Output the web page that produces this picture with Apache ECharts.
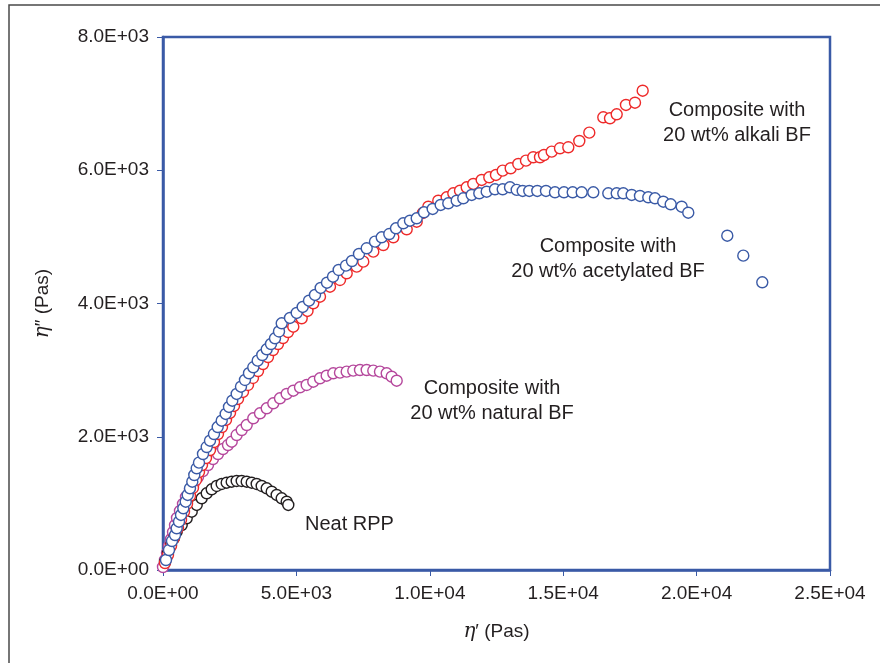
<!DOCTYPE html>
<html>
<head>
<meta charset="utf-8">
<script src="https://cdn.jsdelivr.net/npm/echarts@6/dist/echarts.min.js"></script>
<style>
html,body{margin:0;padding:0;background:#fff;}
#chart{width:880px;height:663px;}
</style>
</head>
<body>
<div id="chart"></div>
<script>
// eta' (Pas), eta'' (Pas) pairs
const neatRPP = [
  [75,120],[187,255],[300,375],[412,480],[513,575],[701,675],[888,776],[1076,875],
  [1263,976],[1450,1076],[1638,1151],[1825,1211],[2013,1261],[2200,1291],[2387,1310],
  [2575,1325],[2762,1336],[2950,1336],[3137,1325],[3324,1310],[3512,1291],[3699,1261],
  [3887,1226],[4074,1175],[4261,1126],[4449,1076],[4636,1025],[4696,976]
];
const naturalBF = [
  [0,45],[75,150],[150,255],[225,360],[300,465],[375,570],[450,675],[525,781],[637,886],
  [750,991],[862,1096],[1012,1201],[1162,1306],[1312,1396],[1499,1486],[1687,1576],
  [1874,1666],[2061,1741],[2249,1816],[2436,1876],[2575,1926],[2762,2026],[2950,2101],
  [3137,2176],[3384,2277],[3636,2352],[3887,2427],[4134,2502],[4385,2577],[4636,2642],
  [4884,2691],[5135,2742],[5386,2777],[5633,2826],[5884,2877],[6135,2916],[6383,2952],
  [6634,2962],[6885,2977],[7132,2992],[7384,3002],[7635,3002],[7882,2992],[8133,2977],
  [8384,2952],[8572,2901],[8759,2841]
];
const alkaliBF = [
  [75,105],[187,225],[300,360],[412,480],[562,630],[675,751],[787,871],[900,991],
  [1012,1111],[1124,1231],[1237,1351],[1349,1471],[1462,1576],[1612,1681],[1762,1801],
  [1911,1921],[2061,2041],[2211,2146],[2361,2252],[2511,2357],[2661,2462],[2811,2567],
  [2998,2672],[3186,2777],[3373,2882],[3561,2987],[3748,3092],[3935,3197],[4123,3302],
  [4310,3392],[4498,3482],[4685,3572],[4884,3652],[5198,3778],[5416,3888],[5633,4003],
  [5884,4102],[6259,4252],[6634,4353],[6885,4453],[7260,4553],[7507,4628],[7882,4778],
  [8257,4878],[8632,4994],[9134,5114],[9509,5228],[9745,5359],[9944,5453],[10318,5543],
  [10633,5594],[10881,5654],[11132,5693],[11383,5744],[11630,5794],[11945,5854],
  [12230,5894],[12481,5929],[12732,5994],[13032,6030],[13317,6094],[13605,6144],
  [13879,6195],[14130,6195],[14280,6229],[14569,6279],[14880,6330],[15191,6345],
  [15603,6439],[15978,6564],[16503,6795],[16754,6780],[17005,6840],[17353,6980],
  [17691,7014],[17979,7194]
];
const acetylatedBF = [
  [112,150],[225,300],[337,435],[450,525],[513,626],[600,725],[675,826],[761,926],
  [851,1025],[926,1126],[1012,1226],[1098,1325],[1173,1426],[1263,1527],[1349,1611],
  [1499,1741],[1638,1846],[1762,1941],[1911,2041],[2050,2146],[2200,2241],[2350,2342],
  [2474,2447],[2597,2541],[2762,2642],[2923,2751],[3073,2852],[3223,2953],[3384,3043],
  [3549,3142],[3722,3227],[3887,3313],[4048,3392],[4198,3478],[4348,3580],[4449,3703],
  [4760,3783],[5011,3858],[5236,3948],[5472,4042],[5697,4128],[5911,4233],[6147,4312],
  [6372,4402],[6585,4503],[6859,4568],[7084,4638],[7346,4743],[7635,4829],[7946,4928],
  [8197,4994],[8482,5043],[8733,5129],[9006,5204],[9257,5243],[9509,5279],[9782,5369],
  [10108,5419],[10408,5479],[10693,5504],[11008,5543],[11255,5579],[11570,5629],
  [11855,5654],[12132,5678],[12443,5714],[12732,5714],[13006,5744],[13257,5705],
  [13482,5689],[13729,5689],[14029,5689],[14355,5689],[14692,5669],[15029,5669],
  [15356,5669],[15693,5669],[16128,5669],[16690,5654],[17005,5654],[17252,5654],
  [17567,5629],[17878,5614],[18189,5594],[18440,5579],[18751,5528],[19029,5489],
  [19441,5453],[19688,5363],[21150,5018],[21750,4718],[22462,4318]
];
const xTickLabels = ['0.0E+00','5.0E+03','1.0E+04','1.5E+04','2.0E+04','2.5E+04'];
const yTickLabels = ['0.0E+00','2.0E+03','4.0E+03','6.0E+03','8.0E+03'];
const seriesNames = ['Composite with 20 wt% natural BF','Neat RPP','Composite with 20 wt% alkali BF','Composite with 20 wt% acetylated BF'];

const axisBlue = '#3a5aa6';
const txt = '#231f20';
const fontFam = '"Liberation Sans", Arial, Helvetica, sans-serif';

const chart = echarts.init(document.getElementById('chart'), null, {renderer:'canvas'});

function mk(name, data, color) {
  return {
    name: name, type: 'scatter', data: data,
    symbol: 'circle', symbolSize: 11,
    itemStyle: {color: '#ffffff', borderColor: color, borderWidth: 1.4, opacity: 1},
    emphasis: {disabled: true},
    animation: false
  };
}

chart.setOption({
  animation: false,
  backgroundColor: '#ffffff',
  grid: {left: 163, top: 37, right: 50, bottom: 93, show: true, borderColor: axisBlue, borderWidth: 2.5, backgroundColor: 'transparent'},
  xAxis: {
    type: 'value', min: 0, max: 25000, interval: 5000,
    name: '{i|η}′ (Pas)', nameLocation: 'middle', nameGap: 52,
    nameTextStyle: {color: txt, fontSize: 19, fontFamily: fontFam, rich: {i: {fontStyle: 'italic', fontSize: 20, fontFamily: '"DejaVu Serif", serif', color: txt}}},
    axisLine: {show: true, lineStyle: {color: axisBlue, width: 2.5}},
    axisTick: {show: true, inside: false, length: 6, lineStyle: {color: axisBlue, width: 1}},
    axisLabel: {color: txt, fontSize: 19, fontFamily: fontFam, margin: 14,
      formatter: v => xTickLabels[Math.round(v / 5000)]},
    splitLine: {show: false}
  },
  yAxis: {
    type: 'value', min: 0, max: 8000, interval: 2000,
    name: '{i|η}″ (Pas)', nameLocation: 'middle', nameGap: 110, nameRotate: 90,
    nameTextStyle: {color: txt, fontSize: 19, fontFamily: fontFam, rich: {i: {fontStyle: 'italic', fontSize: 20, fontFamily: '"DejaVu Serif", serif', color: txt}}},
    axisLine: {show: true, lineStyle: {color: axisBlue, width: 2.5}},
    axisTick: {show: true, inside: false, length: 6, lineStyle: {color: axisBlue, width: 1}},
    axisLabel: {color: txt, fontSize: 19, fontFamily: fontFam, margin: 14,
      formatter: v => yTickLabels[Math.round(v / 2000)]},
    splitLine: {show: false}
  },
  series: [
    mk(seriesNames[0], naturalBF, '#b5479c'),
    mk(seriesNames[1], neatRPP, '#231f20'),
    mk(seriesNames[2], alkaliBF, '#ee2a2a'),
    mk(seriesNames[3], acetylatedBF, '#3a5aa6')
  ],
  graphic: [
    {type: 'rect', silent: true, shape: {x: 9, y: 5, width: 1000, height: 1000},
      style: {fill: 'none', stroke: '#4a4a4a', lineWidth: 1.5}},
    {type: 'text', silent: true, x: 737, y: 98, style: {text: 'Composite with\n20 wt% alkali BF', fill: txt, font: '20px ' + fontFam, textAlign: 'center', lineHeight: 25}},
    {type: 'text', silent: true, x: 608, y: 234, style: {text: 'Composite with\n20 wt% acetylated BF', fill: txt, font: '20px ' + fontFam, textAlign: 'center', lineHeight: 25}},
    {type: 'text', silent: true, x: 492, y: 376, style: {text: 'Composite with\n20 wt% natural BF', fill: txt, font: '20px ' + fontFam, textAlign: 'center', lineHeight: 25}},
    {type: 'text', silent: true, x: 305, y: 512, style: {text: 'Neat RPP', fill: txt, font: '20px ' + fontFam, textAlign: 'left', lineHeight: 25}}
  ]
});
</script>
</body>
</html>
